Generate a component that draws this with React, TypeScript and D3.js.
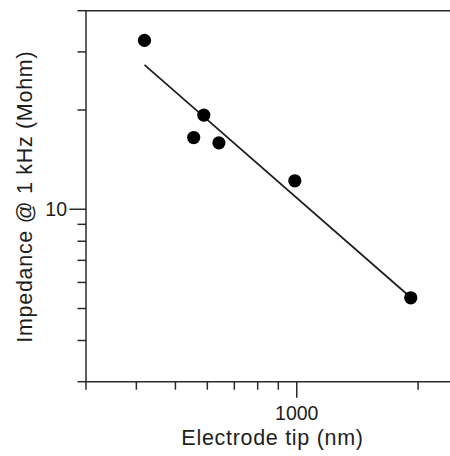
import React from "react";
import * as d3 from "d3";

const tipNm = [419, 555, 588, 641, 989, 1918];
const impedanceMohm = [32.5, 16.5, 19.3, 15.9, 12.2, 5.39];
const fitTipNm = [419, 1918];
const fitImpedance = [27.4, 5.4];
const xMinorTicks = [300, 400, 500, 600, 700, 800, 900, 2000];
const xMajorTicks = [1000];
const xTickLabels = ["1000"];
const yMinorTicks = [3, 4, 5, 6, 7, 8, 9, 20, 30, 40];
const yMajorTicks = [10];
const yTickLabels = ["10"];

export default function App() {
  const W = 450, H = 456;
  const left = 86, right = 450, top = 10.7, bottom = 381.7;
  const x = d3.scaleLog().domain([300, 2400]).range([left, right]);
  const y = d3.scaleLog().domain([3, 40]).range([bottom, top]);
  const line = d3.line<[number, number]>().x(d => x(d[0])).y(d => y(d[1]));
  const fit: [number, number][] = fitTipNm.map((v, i) => [v, fitImpedance[i]]);
  const axisColor = "#2a2a2a";
  const font = "'Liberation Sans', Arial, sans-serif";
  return (
    <svg width={W} height={H} style={{ position: "absolute", left: 0, top: 0, background: "#fff" }}>
      <g stroke={axisColor} strokeWidth={1.5} fill="none">
        <line x1={left} x2={right} y1={top} y2={top} />
        <line x1={left} x2={right} y1={bottom} y2={bottom} />
        <line x1={left} x2={left} y1={top} y2={bottom} />
        {xMinorTicks.map(t => (
          <line key={"xm" + t} x1={x(t)} x2={x(t)} y1={bottom} y2={bottom + 8} />
        ))}
        {xMajorTicks.map(t => (
          <line key={"xM" + t} x1={x(t)} x2={x(t)} y1={bottom} y2={bottom + 16} />
        ))}
        {yMinorTicks.map(t => (
          <line key={"ym" + t} x1={left - 8.5} x2={left} y1={y(t)} y2={y(t)} />
        ))}
        {yMajorTicks.map(t => (
          <line key={"yM" + t} x1={left - 16.5} x2={left} y1={y(t)} y2={y(t)} />
        ))}
      </g>
      <g fill="#1e1e1e" fontFamily={font} fontSize={19.5}>
        {xMajorTicks.map((t, i) => (
          <text key={"xl" + t} x={x(t)} y={419.5} textAnchor="middle">{xTickLabels[i]}</text>
        ))}
        {yMajorTicks.map((t, i) => (
          <text key={"yl" + t} x={67} y={y(t)} dy="0.35em" textAnchor="end">{yTickLabels[i]}</text>
        ))}
        <text x={272.5} y={445} textAnchor="middle" fontSize={21.5} letterSpacing={0.7}>Electrode tip (nm)</text>
        <text transform={`translate(31.5,196.7) rotate(-90)`} textAnchor="middle" fontSize={21.5} letterSpacing={0.7}>
          Impedance @ 1 kHz (Mohm)
        </text>
      </g>
      <path d={line(fit) || ""} stroke="#1e1e1e" strokeWidth={1.7} fill="none" />
      {tipNm.map((v, i) => (
        <circle key={i} cx={x(v)} cy={y(impedanceMohm[i])} r={6.6} fill="#000" />
      ))}
    </svg>
  );
}
